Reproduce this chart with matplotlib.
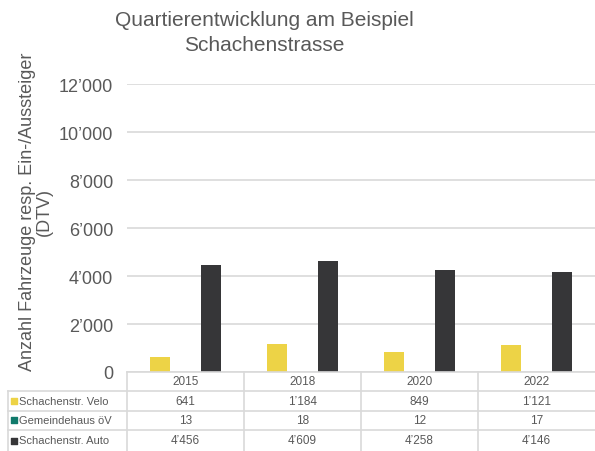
import matplotlib
matplotlib.use("Agg")
import matplotlib.pyplot as plt
import numpy as np

years = ["2015", "2018", "2020", "2022"]
series_names = ["Schachenstr. Velo", "Gemeindehaus öV", "Schachenstr. Auto"]
velo = [641, 1184, 849, 1121]
oev = [13, 18, 12, 17]
auto = [4456, 4609, 4258, 4146]
series_values = [velo, oev, auto]
colors = ["#EDD346", "#107A6B", "#363638"]
yticks = [0, 2000, 4000, 6000, 8000, 10000, 12000]

TXT = "#595959"
GRID = "#D9D9D9"
plt.rcParams['font.family'] = ['Liberation Sans', 'DejaVu Sans']

W, H = 595, 452
fig = plt.figure(figsize=(W / 100, H / 100), dpi=100)

def fmt(v):
    return f"{v:,}".replace(",", "\u2019")

ax_l, ax_r, ax_t, ax_b = 127, 595, 85, 373
ax = fig.add_axes([ax_l / W, 1 - ax_b / H, (ax_r - ax_l) / W, (ax_b - ax_t) / H])
x = np.arange(len(years))
offsets = [-0.22, 0.0, 0.22]
bw = 0.17
for vals, off, c in zip(series_values, offsets, colors):
    ax.bar(x + off, vals, width=bw, color=c, zorder=3)
ax.set_xlim(-0.5, len(years) - 0.5)
ax.set_ylim(0, 12000)
ax.set_yticks(yticks)
ax.set_yticklabels([fmt(v) for v in yticks], fontsize=13, color=TXT)
ax.tick_params(axis='y', length=0, pad=10)
ax.set_xticks([])
ax.grid(axis='y', color=GRID, linewidth=1.2, zorder=0)
for s in ax.spines.values():
    s.set_visible(False)

# table overlay in pixel coords
tab = fig.add_axes([ax_l / W, 0, (ax_r - ax_l) / W, 1])
tab.set_xlim(-0.5, len(years) - 0.5)
tab.set_ylim(H, 0)
tab.axis('off')
cat_px = (ax_r - ax_l) / len(years)
def px2x(px):
    return -0.5 + (px - ax_l) / cat_px

rows_y = [373, 392, 411.5, 431, 452]
left_lab = px2x(8)
lw = 1.2
tab.plot([-0.5, len(years) - 0.5], [373, 373], color=GRID, lw=lw, clip_on=False)
for yy in rows_y[1:4]:
    tab.plot([left_lab, len(years) - 0.5], [yy, yy], color=GRID, lw=lw, clip_on=False)
tab.plot([left_lab, left_lab], [392, 452], color=GRID, lw=lw, clip_on=False)
for i in range(len(years)):
    tab.plot([i - 0.5, i - 0.5], [373, 452], color=GRID, lw=lw, clip_on=False)
for i, yr in enumerate(years):
    tab.text(i, (rows_y[0] + rows_y[1]) / 2, yr, ha='center', va='center', fontsize=8.5, color=TXT)
for r, (name, vals, c) in enumerate(zip(series_names, series_values, colors)):
    yc = (rows_y[r + 1] + rows_y[r + 2]) / 2
    tab.scatter([px2x(14.5)], [yc], marker='s', s=16, color=c, clip_on=False)
    tab.text(px2x(19), yc, name, ha='left', va='center', fontsize=8, color=TXT)
    for i, v in enumerate(vals):
        tab.text(i, yc, fmt(v), ha='center', va='center', fontsize=8.5, color=TXT)

fig.text(264 / W, 1 - 33 / H, "Quartierentwicklung am Beispiel\nSchachenstrasse",
         ha='center', va='center', fontsize=15, color=TXT, linespacing=1.45)
fig.text(36 / W, 1 - 212 / H, "Anzahl Fahrzeuge resp. Ein-/Aussteiger\n(DTV)",
         ha='center', va='center', rotation=90, fontsize=13, color=TXT, linespacing=0.95)

fig.savefig("out.png", dpi=100)
